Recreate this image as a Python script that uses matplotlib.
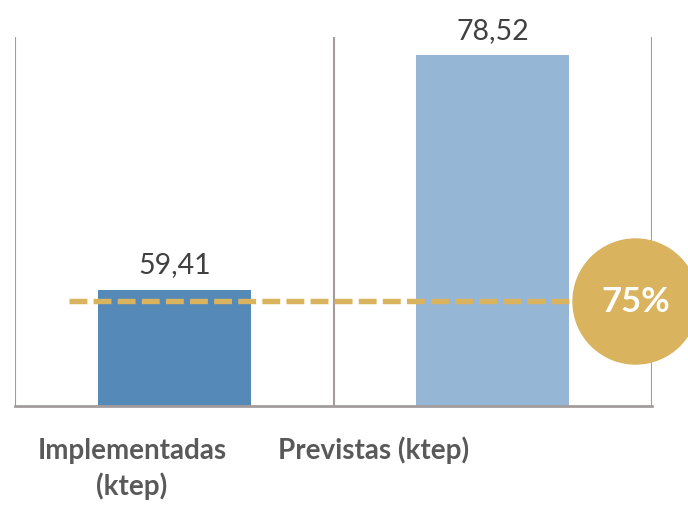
import matplotlib
matplotlib.use("Agg")
import matplotlib.pyplot as plt
from matplotlib.patches import Ellipse

categories = ["Implementadas\n(ktep)", "Previstas (ktep)"]
values = [59.41, 78.52]
value_labels = ["59,41", "78,52"]
target_line = 58.5
target_text = "75%"

bar_colors = ["#5489B8", "#95B6D4"]
gold = "#D9B35E"
grid_gray = "#A39C9C"

plt.rcParams["font.family"] = ["Lato", "DejaVu Sans"]

W, H = 688, 508
fig = plt.figure(figsize=(W / 100, H / 100), dpi=100)
ax = fig.add_axes([15 / W, 1 - 405.7 / H, 637 / W, 368.7 / H])

x = list(range(len(values)))
ax.bar(x, values, width=0.48, color=bar_colors, zorder=2)
ax.set_xlim(-0.5, 1.5)
ax.set_ylim(50, 80)

for xv in [-0.5, 0.5, 1.5]:
    ax.axvline(xv, color=grid_gray, lw=1.5, zorder=1)

for xi, v, lab in zip(x, values, value_labels):
    ax.text(xi, v + 1.35, lab, ha="center", va="baseline", fontsize=20.5, color="#404040")

ax.plot([-0.33, 1.24], [target_line, target_line], color=gold, lw=3.9,
        dashes=(3.3, 1.15), zorder=3)

for s in ["top", "right", "left"]:
    ax.spines[s].set_visible(False)
ax.spines["bottom"].set_color(grid_gray)
ax.spines["bottom"].set_linewidth(2)
ax.set_xticks([])
ax.set_yticks([])

# circle badge, in figure pixels so it stays round
cx, cy, r = 635.5, H - 301.5, 62.5
fig.patches.append(Ellipse((cx / W, cy / H), 2 * r / W, 2 * r / H,
                           transform=fig.transFigure, color=gold, zorder=5))
fig.text(cx / W, cy / H, target_text, ha="center", va="center",
         fontsize=25, fontweight="bold", color="white", zorder=6)

# category labels (text boxes sit left of the bar centres in the original)
label_x = [132, 374]
for lx, cat in zip(label_x, categories):
    for i, line in enumerate(cat.split("\n")):
        fig.text(lx / W, 1 - (459 + 36 * i) / H, line, ha="center", va="baseline",
                 fontsize=20, fontweight="bold", color="#595959")

fig.savefig("out.png", dpi=100)
